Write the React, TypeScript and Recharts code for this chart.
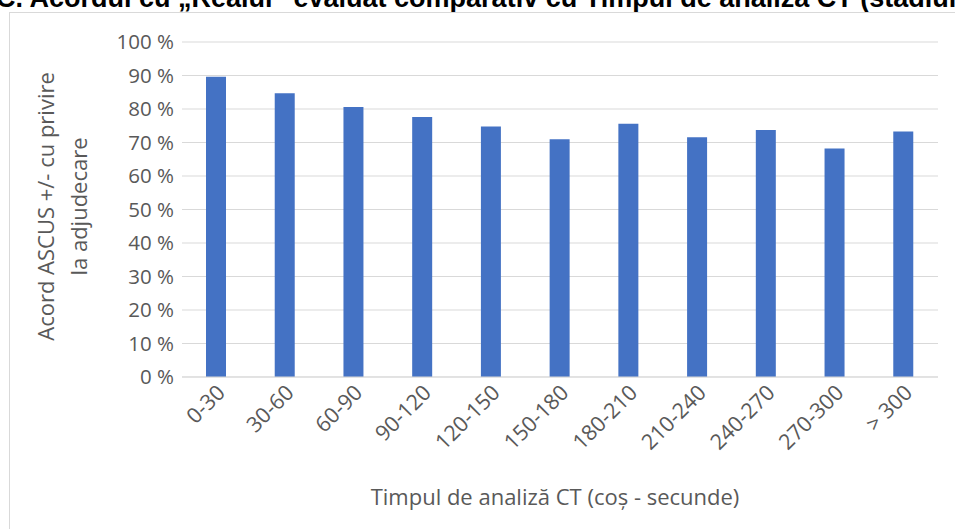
import { BarChart, Bar, XAxis, YAxis, CartesianGrid } from 'recharts';

const categories = ['0-30', '30-60', '60-90', '90-120', '120-150', '150-180', '180-210', '210-240', '240-270', '270-300', '> 300'];
const agreement = [89.6, 84.7, 80.6, 77.6, 74.8, 71.0, 75.6, 71.6, 73.7, 68.2, 73.3];
const yTicks = [0, 10, 20, 30, 40, 50, 60, 70, 80, 90, 100];

const title = 'C. Acordul cu „Realul” evaluat comparativ cu Timpul de analiză CT (stadiul I)';
const yLabel = ['Acord ASCUS +/- cu privire', 'la adjudecare'];
const xLabel = 'Timpul de analiză CT (coș - secunde)';

const data = categories.map((c, i) => ({ name: c, value: agreement[i] }));

const FONT = '"Open Sans", sans-serif';
const GREY = '#595959';

function XTick({ x, y, payload }: any) {
  return (
    <g transform={`translate(${x + 10},${y + 9}) rotate(-45)`}>
      <text x={0} y={0} textAnchor="end" fill={GREY} fontFamily={FONT} fontSize={21.5}>
        {payload.value}
      </text>
    </g>
  );
}

function YTitle({ viewBox }: any) {
  const cy = viewBox.y + viewBox.height / 2 - 3;
  return (
    <g>
      <text x={45} y={cy} transform={`rotate(-90 45 ${cy})`} textAnchor="middle" dominantBaseline="central" fill={GREY} fontFamily={FONT} fontSize={22}>
        {yLabel[0]}
      </text>
      <text x={78} y={cy} transform={`rotate(-90 78 ${cy})`} textAnchor="middle" dominantBaseline="central" fill={GREY} fontFamily={FONT} fontSize={22}>
        {yLabel[1]}
      </text>
    </g>
  );
}

function XTitle({ viewBox }: any) {
  const cx = viewBox.x + viewBox.width / 2 - 5;
  return (
    <text x={cx} y={496} textAnchor="middle" dominantBaseline="central" fill={GREY} fontFamily={FONT} fontSize={22}>
      {xLabel}
    </text>
  );
}

export default function App() {
  return (
    <div style={{ position: 'fixed', top: 0, left: 0, width: 955, height: 529, overflow: 'hidden', background: '#fff' }}>
      <div
        style={{
          position: 'absolute', left: -4, top: -15.5, whiteSpace: 'nowrap',
          fontFamily: '"Liberation Sans", Arial, sans-serif', fontWeight: 'bold', fontSize: 27, lineHeight: '27px', color: '#000',
        }}
      >
        {title}
      </div>
      <div style={{ position: 'absolute', left: 9, top: 12, width: 1000, height: 600, border: '1px solid #d9d9d9' }} />
      <div style={{ position: 'absolute', left: 0, top: 0 }}>
        <BarChart width={955} height={529} data={data} margin={{ top: 42, right: 17, left: 0, bottom: 0 }} barSize={20}>
          <CartesianGrid vertical={false} stroke="#d9d9d9" />
          <XAxis
            dataKey="name"
            interval={0}
            height={152}
            tickLine={false}
            axisLine={{ stroke: '#d9d9d9' }}
            tick={<XTick />}
            label={{ content: <XTitle /> }}
          />
          <YAxis
            width={182}
            domain={[0, 100]}
            ticks={yTicks}
            interval={0}
            axisLine={false}
            tickLine={false}
            tickFormatter={(v: number) => `${v} %`}
            tick={{ fill: GREY, fontFamily: FONT, fontSize: 20.5 }}
            label={{ content: <YTitle /> }}
          />
          <Bar dataKey="value" fill="#4472c4" isAnimationActive={false} />
        </BarChart>
      </div>
    </div>
  );
}
